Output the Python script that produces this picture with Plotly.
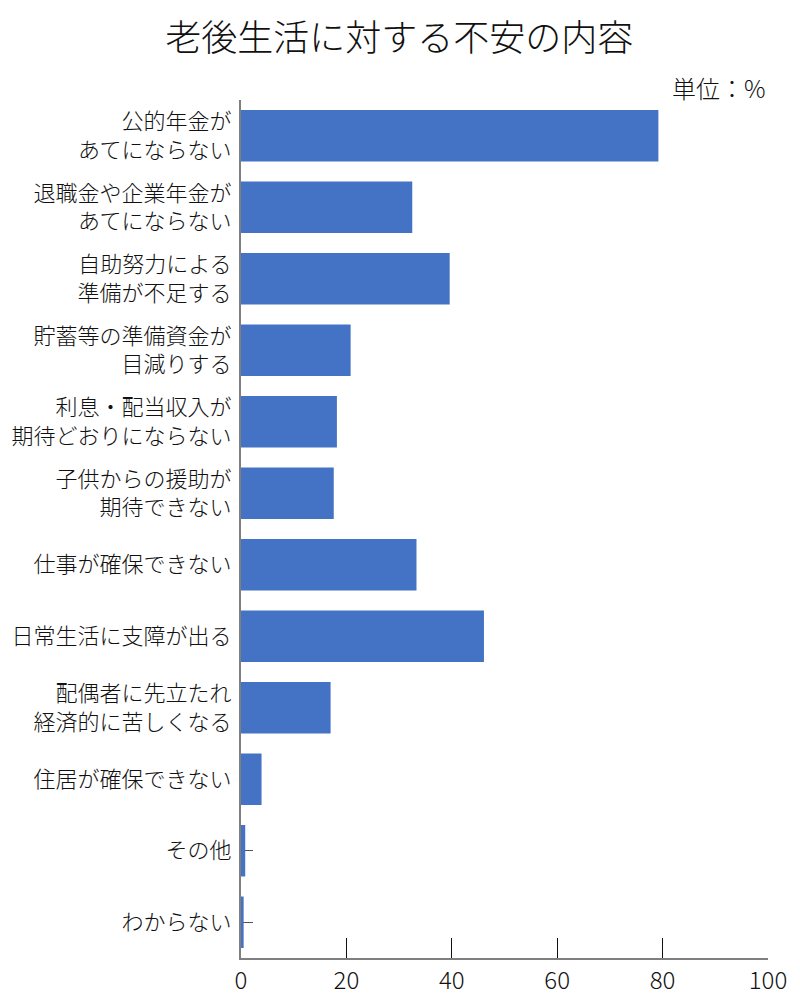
import plotly.graph_objects as go

# 項目（上から順）
categories = [
    "公的年金が<br>あてにならない",
    "退職金や企業年金が<br>あてにならない",
    "自助努力による<br>準備が不足する",
    "貯蓄等の準備資金が<br>目減りする",
    "利息・配当収入が<br>期待どおりにならない",
    "子供からの援助が<br>期待できない",
    "仕事が確保できない",
    "日常生活に支障が出る",
    "配偶者に先立たれ<br>経済的に苦しくなる",
    "住居が確保できない",
    "その他",
    "わからない",
]
values = [79.2, 32.5, 39.6, 20.8, 18.2, 17.6, 33.3, 46.1, 17.0, 3.9, 0.8, 0.5]
x_ticks = [0, 20, 40, 60, 80, 100]

FONT = "Noto Sans CJK JP"

fig = go.Figure(go.Bar(
    x=values,
    y=categories,
    orientation="h",
    marker=dict(color="#4472C4", line=dict(width=0)),
))

# ページ本体の余白(8px)を見込んだ余白
fig.update_layout(
    width=800,
    height=1000,
    paper_bgcolor="white",
    plot_bgcolor="white",
    font=dict(family=FONT, color="#111111", size=22, weight=300),
    title=dict(
        text="老後生活に対する不安の内容",
        x=0.489, xanchor="center",
        y=0.97, yanchor="middle",
        font=dict(size=36, family=FONT, color="#111111", weight=300),
    ),
    margin=dict(l=233, r=40, t=92, b=50, autoexpand=False),
    bargap=0.28,
    showlegend=False,
)

fig.update_xaxes(
    range=[0, 100],
    tickvals=x_ticks,
    ticks="inside",
    ticklen=20,
    tickcolor="#111111",
    tickwidth=1,
    showline=True,
    linecolor="#7f7f7f",
    linewidth=2,
    showgrid=False,
    zeroline=False,
    automargin=False,
    tickfont=dict(size=24, family=FONT, weight=300),
)

fig.update_yaxes(
    autorange="reversed",
    ticks="inside",
    ticklen=12,
    tickcolor="#555555",
    showline=True,
    linecolor="#7f7f7f",
    linewidth=2,
    showgrid=False,
    automargin=False,
    layer="below traces",
    ticklabelstandoff=3,
    tickfont=dict(size=22, family=FONT, weight=300),
)

fig.add_annotation(
    text="単位：%",
    xref="paper", yref="paper",
    x=1, y=1, xanchor="right", yanchor="bottom",
    yshift=-7,
    showarrow=False,
    font=dict(size=24, family=FONT, color="#111111", weight=300),
)

fig.write_html("out.html")
